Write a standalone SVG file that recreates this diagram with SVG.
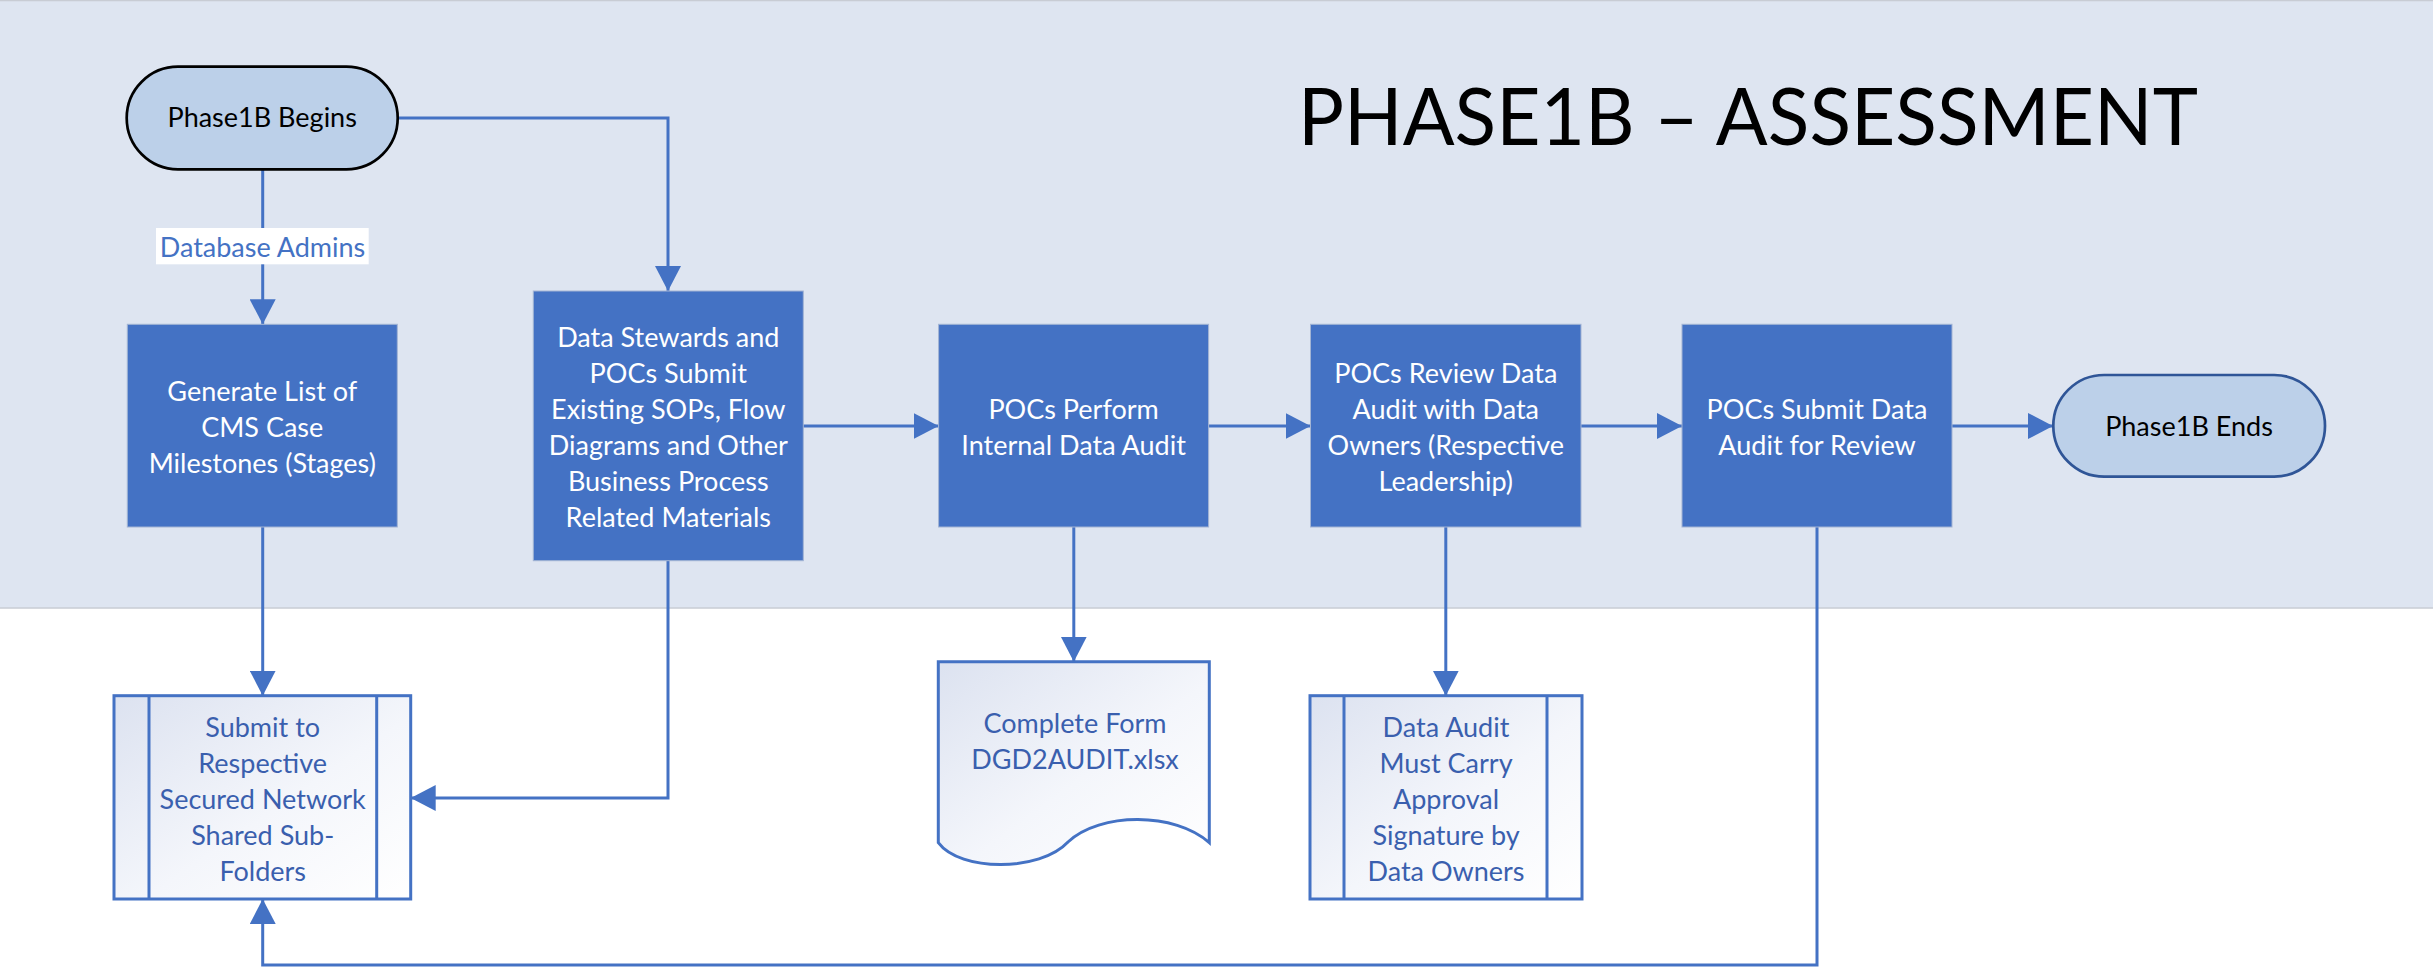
<svg xmlns="http://www.w3.org/2000/svg" width="2433" height="971" viewBox="0 0 2433 971">
  <style>
    text { font-family: Lato, "Liberation Sans", sans-serif; }
    .box { fill: #4472C4; stroke: #A3B4D4; stroke-width: 1; }
    .boxtxt { fill: #FFFFFF; font-size: 27px; text-anchor: middle; }
    .pill { fill: #BCD0E9; stroke-width: 2.7; }
    .pilltxt { fill: #000000; font-size: 27px; text-anchor: middle; }
    .sub { fill: url(#grad); stroke: #4472C4; stroke-width: 3; }
    .subline { fill: none; stroke: #4472C4; stroke-width: 3; }
    .subtxt { fill: #3A5FAE; font-size: 27px; text-anchor: middle; }
    .conn { fill: none; stroke: #4472C4; stroke-width: 3; marker-end: url(#arrow); }
  </style>
  <defs>
    <marker id="arrow" markerUnits="userSpaceOnUse" markerWidth="26" markerHeight="26" refX="25" refY="13" orient="auto">
      <path d="M0,0 L25,13 L0,26 Z" fill="#4472C4"/>
    </marker>
    <linearGradient id="grad" x1="0" y1="0" x2="1" y2="1">
      <stop offset="0" stop-color="#DCE2F0"/>
      <stop offset="0.55" stop-color="#F4F6FB"/>
      <stop offset="1" stop-color="#FFFFFF"/>
    </linearGradient>
  </defs>

  <rect x="0" y="0" width="2433" height="971" fill="#FFFFFF"/>
  <rect id="panel" x="-1" y="0.5" width="2440" height="607.5" fill="#DEE5F1" stroke="#C8CCD4" stroke-width="1.5"/>

  <text id="title" x="1298" y="145" font-size="79" fill="#000000" textLength="900" lengthAdjust="spacingAndGlyphs">PHASE1B – ASSESSMENT</text>

  <g id="connectors">
    <path class="conn" d="M262.7,169.3 V324.3"/>
    <path class="conn" d="M397.7,118 H668 V291"/>
    <path class="conn" d="M262.7,527 V695.7"/>
    <path class="conn" d="M668,560.7 V798 H410.7"/>
    <path class="conn" d="M803,426 H938.6"/>
    <path class="conn" d="M1073.8,527 V661.7"/>
    <path class="conn" d="M1208.5,426 H1310.5"/>
    <path class="conn" d="M1445.8,527 V695.7"/>
    <path class="conn" d="M1581,426 H1682"/>
    <path class="conn" d="M1952,426 H2053"/>
    <path class="conn" d="M1817,527 V965 H262.7 V899"/>
    <g id="label-dbadmins">
      <rect x="156" y="228" width="212.7" height="36.3" fill="#FFFFFF"/>
      <text x="262.5" y="256.7" font-size="27" fill="#4472C4" text-anchor="middle">Database Admins</text>
    </g>
  </g>

  <g id="begin">
    <rect class="pill" x="126.7" y="66.7" width="271" height="102.6" rx="51.3" ry="51.3" stroke="#000000"/>
    <text class="pilltxt" x="262.2" y="127.3">Phase1B Begins</text>
  </g>

  <g id="generate">
    <rect class="box" x="127.3" y="324.3" width="270" height="202.7"/>
    <text class="boxtxt" x="262.3" y="400.6">Generate List of</text>
    <text class="boxtxt" x="262.3" y="436.6">CMS Case</text>
    <text class="boxtxt" x="262.3" y="472.6">Milestones (Stages)</text>
  </g>

  <g id="stewards">
    <rect class="box" x="533.3" y="291" width="270" height="269.7"/>
    <text class="boxtxt" x="668.3" y="346.8">Data Stewards and</text>
    <text class="boxtxt" x="668.3" y="382.8">POCs Submit</text>
    <text class="boxtxt" x="668.3" y="418.8">Existing SOPs, Flow</text>
    <text class="boxtxt" x="668.3" y="454.8">Diagrams and Other</text>
    <text class="boxtxt" x="668.3" y="490.8">Business Process</text>
    <text class="boxtxt" x="668.3" y="526.8">Related Materials</text>
  </g>

  <g id="perform">
    <rect class="box" x="938.6" y="324.3" width="270" height="202.7"/>
    <text class="boxtxt" x="1073.6" y="418.6">POCs Perform</text>
    <text class="boxtxt" x="1073.6" y="454.6">Internal Data Audit</text>
  </g>

  <g id="review">
    <rect class="box" x="1310.5" y="324.3" width="270.5" height="202.7"/>
    <text class="boxtxt" x="1445.8" y="382.6">POCs Review Data</text>
    <text class="boxtxt" x="1445.8" y="418.6">Audit with Data</text>
    <text class="boxtxt" x="1445.8" y="454.6">Owners (Respective</text>
    <text class="boxtxt" x="1445.8" y="490.6">Leadership)</text>
  </g>

  <g id="submitreview">
    <rect class="box" x="1682" y="324.3" width="270" height="202.7"/>
    <text class="boxtxt" x="1817" y="418.6">POCs Submit Data</text>
    <text class="boxtxt" x="1817" y="454.6">Audit for Review</text>
  </g>

  <g id="ends">
    <rect class="pill" x="2053.3" y="375" width="271.7" height="101.7" rx="50.8" ry="50.8" stroke="#2F5597"/>
    <text class="pilltxt" x="2189" y="436">Phase1B Ends</text>
  </g>

  <g id="submitfolders">
    <rect class="sub" x="114" y="695.7" width="296.7" height="203.3"/>
    <path class="subline" d="M149,695.7 V899 M376.7,695.7 V899"/>
    <text class="subtxt" x="262.7" y="737.3">Submit to</text>
    <text class="subtxt" x="262.7" y="773.1">Respective</text>
    <text class="subtxt" x="262.7" y="808.9">Secured Network</text>
    <text class="subtxt" x="262.7" y="844.7">Shared Sub-</text>
    <text class="subtxt" x="262.7" y="880.5">Folders</text>
  </g>

  <g id="document">
    <path class="sub" d="M938.3,661.7 H1209.3 V842.7 C1175,812 1100,812 1068,842 C1040,872 960,872 938.3,842.7 Z"/>
    <text class="subtxt" x="1075" y="733.3">Complete Form</text>
    <text class="subtxt" x="1075" y="769.3">DGD2AUDIT.xlsx</text>
  </g>

  <g id="signoff">
    <rect class="sub" x="1310" y="695.7" width="272" height="203.3"/>
    <path class="subline" d="M1344,695.7 V899 M1547,695.7 V899"/>
    <text class="subtxt" x="1446" y="737.3">Data Audit</text>
    <text class="subtxt" x="1446" y="773.1">Must Carry</text>
    <text class="subtxt" x="1446" y="808.9">Approval</text>
    <text class="subtxt" x="1446" y="844.7">Signature by</text>
    <text class="subtxt" x="1446" y="880.5">Data Owners</text>
  </g>
</svg>
